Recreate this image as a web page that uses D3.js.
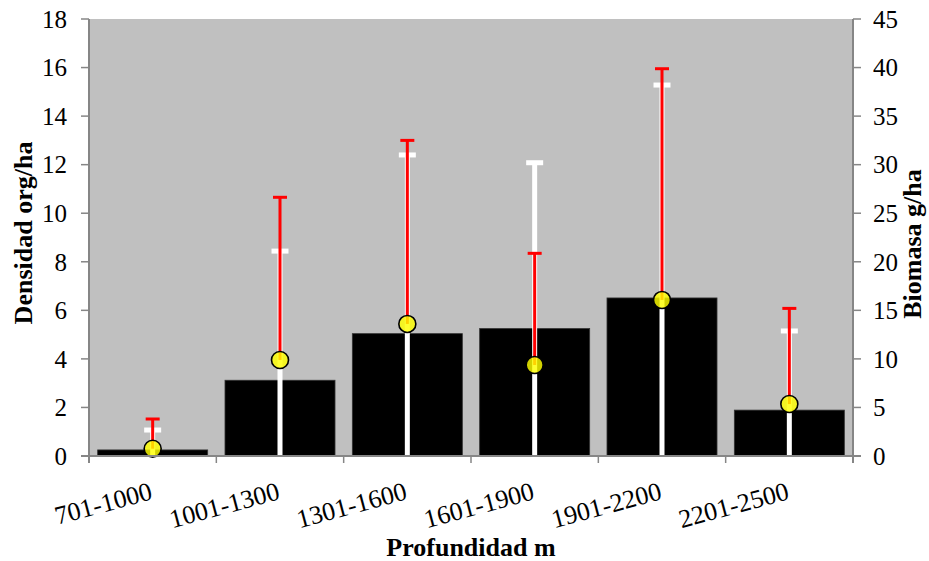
<!DOCTYPE html>
<html>
<head>
<meta charset="utf-8">
<script src="https://cdn.jsdelivr.net/npm/d3@7"></script>
<style>
  html, body { margin: 0; padding: 0; background: #fff; }
  svg { display: block; }
</style>
</head>
<body>
<svg id="chart" width="929" height="561"></svg>
<script>
const categories = ["701-1000", "1001-1300", "1301-1600", "1601-1900", "1901-2200", "2201-2500"];
const densidad = [0.25, 3.12, 5.04, 5.25, 6.51, 1.89];
const densidadErr = [0.82, 5.32, 7.36, 6.83, 8.77, 3.26];
const biomasa = [0.75, 9.89, 13.6, 9.37, 16.07, 5.35];
const biomasaErr = [3.06, 16.75, 18.9, 11.5, 23.81, 9.85];
const leftTicks = [0, 2, 4, 6, 8, 10, 12, 14, 16, 18];
const rightTicks = [0, 5, 10, 15, 20, 25, 30, 35, 40, 45];

const svg = d3.select("#chart");
const L = 89, R = 853, T = 19, B = 456;

const xBand = d3.scaleBand().domain(categories).range([L, R]).paddingInner(0.136).paddingOuter(0.068);
const xCat = d3.scaleBand().domain(categories).range([L, R]).padding(0);
const yL = d3.scaleLinear().domain([0, 18]).range([B, T]);
const yR = d3.scaleLinear().domain([0, 45]).range([B, T]);
const cx = c => xCat(c) + xCat.bandwidth() / 2;

svg.append("rect").attr("x", L).attr("y", T).attr("width", R - L).attr("height", B - T).attr("fill", "#c0c0c0");

const clip = svg.append("defs").append("clipPath").attr("id", "plotclip");
clip.append("rect").attr("x", L).attr("y", T - 5).attr("width", R - L).attr("height", B - T + 5);

const g = svg.append("g").attr("clip-path", "url(#plotclip)");

g.selectAll("rect.bar").data(categories).join("rect")
  .attr("class", "bar")
  .attr("x", c => xBand(c))
  .attr("width", xBand.bandwidth())
  .attr("y", (c, i) => yL(densidad[i]))
  .attr("height", (c, i) => B - yL(densidad[i]))
  .attr("fill", "#000").attr("stroke", "#333").attr("stroke-width", 0.8);

categories.forEach((c, i) => {
  const x = cx(c);
  const top = yL(densidad[i] + densidadErr[i]);
  const bot = yL(Math.max(0, densidad[i] - densidadErr[i]));
  g.append("line").attr("x1", x).attr("x2", x).attr("y1", bot).attr("y2", top)
    .attr("stroke", "#fff").attr("stroke-width", 5);
  g.append("line").attr("x1", x - 8.5).attr("x2", x + 8.5).attr("y1", top).attr("y2", top)
    .attr("stroke", "#fff").attr("stroke-width", 5);
});

categories.forEach((c, i) => {
  const x = cx(c);
  const top = yR(biomasa[i] + biomasaErr[i]);
  const y0 = yR(biomasa[i]);
  g.append("line").attr("x1", x).attr("x2", x).attr("y1", y0).attr("y2", top)
    .attr("stroke", "#ff0000").attr("stroke-width", 3);
  g.append("line").attr("x1", x - 7).attr("x2", x + 7).attr("y1", top).attr("y2", top)
    .attr("stroke", "#ff0000").attr("stroke-width", 3);
});

svg.append("g").selectAll("circle").data(categories).join("circle")
  .attr("cx", c => cx(c))
  .attr("cy", (c, i) => yR(biomasa[i]))
  .attr("r", 8.5)
  .attr("fill", "#ffff00").attr("fill-opacity", 0.82)
  .attr("stroke", "#000").attr("stroke-width", 1.6);

const axisColor = "#868686";
function txt(sel, size, bold) {
  return sel.style("font-family", '"Liberation Serif"').style("font-size", size + "px")
    .style("font-weight", bold ? "bold" : "normal").attr("fill", "#000");
}

svg.append("line").attr("x1", L).attr("x2", L).attr("y1", T).attr("y2", B + 7).attr("stroke", axisColor).attr("stroke-width", 2);
leftTicks.forEach(t => {
  svg.append("line").attr("x1", L - 8).attr("x2", L).attr("y1", yL(t)).attr("y2", yL(t)).attr("stroke", axisColor).attr("stroke-width", 1.5);
  txt(svg.append("text"), 25).attr("x", 67).attr("y", yL(t)).attr("dy", "0.35em").attr("text-anchor", "end").text(t);
});
svg.append("line").attr("x1", R).attr("x2", R).attr("y1", T).attr("y2", B + 7).attr("stroke", axisColor).attr("stroke-width", 2);
rightTicks.forEach(t => {
  svg.append("line").attr("x1", R).attr("x2", R + 8).attr("y1", yR(t)).attr("y2", yR(t)).attr("stroke", axisColor).attr("stroke-width", 1.5);
  txt(svg.append("text"), 25).attr("x", 873).attr("y", yR(t)).attr("dy", "0.35em").attr("text-anchor", "start").text(t);
});
svg.append("line").attr("x1", L - 8).attr("x2", R + 8).attr("y1", B).attr("y2", B).attr("stroke", axisColor).attr("stroke-width", 2);
categories.forEach(c => {
  const x = xCat(c);
  svg.append("line").attr("x1", x).attr("x2", x).attr("y1", B).attr("y2", B + 7).attr("stroke", axisColor).attr("stroke-width", 1.5);
});
categories.forEach(c => {
  const x = cx(c) + 1;
  const y = 499;
  txt(svg.append("text"), 26).attr("x", x).attr("y", y).attr("text-anchor", "end")
    .attr("transform", `rotate(-15, ${x}, ${y})`).text(c);
});

txt(svg.append("text"), 26, true).attr("x", 471).attr("y", 556).attr("text-anchor", "middle").text("Profundidad m");
txt(svg.append("text"), 26, true).attr("transform", `translate(32, 233) rotate(-90)`).attr("text-anchor", "middle").text("Densidad org/ha");
txt(svg.append("text"), 26, true).attr("transform", `translate(921, 244) rotate(-90)`).attr("text-anchor", "middle").text("Biomasa g/ha");
</script>
</body>
</html>
